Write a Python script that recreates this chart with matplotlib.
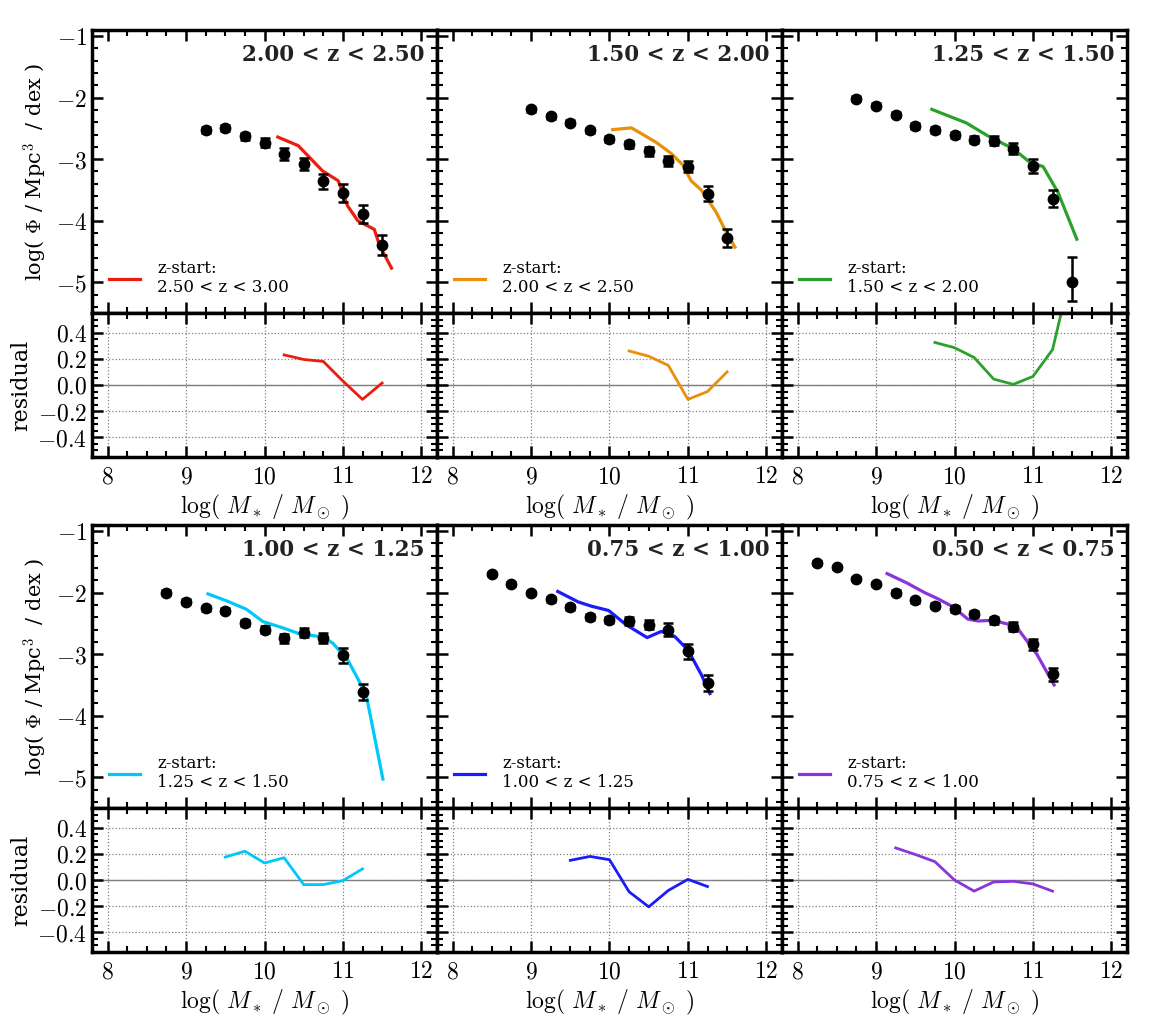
import numpy as np
import matplotlib
matplotlib.use("Agg")
import matplotlib.pyplot as plt
from matplotlib.ticker import MultipleLocator, FuncFormatter

plt.rcParams["font.family"] = "DejaVu Serif"
plt.rcParams["mathtext.fontset"] = "cm"

# ---- data -------------------------------------------------------------
titles = ["2.00 < z < 2.50", "1.50 < z < 2.00", "1.25 < z < 1.50",
          "1.00 < z < 1.25", "0.75 < z < 1.00", "0.50 < z < 0.75"]
starts = ["2.50 < z < 3.00", "2.00 < z < 2.50", "1.50 < z < 2.00",
          "1.25 < z < 1.50", "1.00 < z < 1.25", "0.75 < z < 1.00"]
colors = ["#ec1c0e", "#e8900c", "#2ca02c", "#00c8f8", "#1c1cf8", "#8a35d8"]

# observed mass functions
obs_x1 = [9.25, 9.5, 9.75, 10.0, 10.25, 10.5, 10.75, 11.0, 11.25, 11.5]
obs_y1 = [-2.52, -2.49, -2.63, -2.73, -2.92, -3.08, -3.36, -3.55, -3.89, -4.40]
obs_e1 = [0.05, 0.05, 0.06, 0.07, 0.10, 0.10, 0.12, 0.14, 0.15, 0.16]

obs_x2 = [9.0, 9.25, 9.5, 9.75, 10.0, 10.25, 10.5, 10.75, 11.0, 11.25, 11.5]
obs_y2 = [-2.19, -2.30, -2.41, -2.53, -2.67, -2.76, -2.87, -3.03, -3.12, -3.56, -4.28]
obs_e2 = [0.04, 0.04, 0.04, 0.04, 0.05, 0.05, 0.07, 0.08, 0.09, 0.12, 0.14]

obs_x3 = [8.75, 9.0, 9.25, 9.5, 9.75, 10.0, 10.25, 10.5, 10.75, 11.0, 11.25, 11.5]
obs_y3 = [-2.02, -2.13, -2.28, -2.46, -2.52, -2.60, -2.68, -2.70, -2.83, -3.11, -3.64, -4.99]
obs_e3 = [0.04, 0.04, 0.04, 0.05, 0.05, 0.05, 0.06, 0.07, 0.09, 0.12, 0.14, 0.35]

obs_x4 = [8.75, 9.0, 9.25, 9.5, 9.75, 10.0, 10.25, 10.5, 10.75, 11.0, 11.25]
obs_y4 = [-2.00, -2.15, -2.25, -2.29, -2.49, -2.60, -2.74, -2.65, -2.74, -3.02, -3.62]
obs_e4 = [0.04, 0.04, 0.04, 0.04, 0.05, 0.06, 0.07, 0.07, 0.08, 0.12, 0.13]

obs_x5 = [8.5, 8.75, 9.0, 9.25, 9.5, 9.75, 10.0, 10.25, 10.5, 10.75, 11.0, 11.25]
obs_y5 = [-1.70, -1.86, -2.01, -2.11, -2.24, -2.40, -2.44, -2.46, -2.52, -2.60, -2.95, -3.47]
obs_e5 = [0.03, 0.03, 0.03, 0.04, 0.04, 0.05, 0.05, 0.06, 0.07, 0.10, 0.12, 0.13]

obs_x6 = [8.25, 8.5, 8.75, 9.0, 9.25, 9.5, 9.75, 10.0, 10.25, 10.5, 10.75, 11.0, 11.25]
obs_y6 = [-1.52, -1.59, -1.77, -1.86, -2.00, -2.12, -2.21, -2.26, -2.35, -2.45, -2.55, -2.84, -3.33]
obs_e6 = [0.03, 0.03, 0.03, 0.03, 0.04, 0.04, 0.04, 0.05, 0.05, 0.06, 0.07, 0.09, 0.10]

# evolved model curves
mod_x1 = [10.17, 10.43, 10.74, 10.94, 11.06, 11.19, 11.40, 11.47, 11.62]
mod_y1 = [-2.64, -2.78, -3.19, -3.35, -3.76, -4.00, -4.14, -4.41, -4.77]
mod_x2 = [10.04, 10.28, 10.60, 10.79, 10.94, 11.04, 11.17, 11.36, 11.47, 11.60]
mod_y2 = [-2.52, -2.49, -2.73, -2.91, -3.10, -3.35, -3.50, -3.86, -4.14, -4.43]
mod_x3 = [9.71, 10.15, 10.45, 10.75, 10.96, 11.13, 11.32, 11.56]
mod_y3 = [-2.19, -2.41, -2.64, -2.83, -3.05, -3.12, -3.54, -4.30]
mod_x4 = [9.28, 9.53, 9.77, 9.98, 10.23, 10.45, 10.74, 10.87, 11.06, 11.22, 11.30, 11.51]
mod_y4 = [-2.02, -2.14, -2.27, -2.47, -2.57, -2.67, -2.72, -2.82, -3.09, -3.47, -3.68, -5.03]
mod_x5 = [9.34, 9.60, 9.77, 9.99, 10.21, 10.48, 10.66, 10.83, 11.00, 11.17, 11.28]
mod_y5 = [-1.98, -2.15, -2.22, -2.29, -2.52, -2.73, -2.63, -2.71, -2.93, -3.33, -3.64]
mod_x6 = [9.14, 9.39, 9.62, 9.79, 9.98, 10.17, 10.30, 10.49, 10.71, 10.81, 11.05, 11.27]
mod_y6 = [-1.69, -1.84, -2.00, -2.10, -2.23, -2.43, -2.46, -2.45, -2.52, -2.59, -3.00, -3.50]

# residuals
res_x1 = [10.25, 10.5, 10.75, 11.0, 11.25, 11.5]
res_y1 = [0.23, 0.195, 0.18, 0.03, -0.11, 0.015]
res_x2 = [10.25, 10.5, 10.75, 11.0, 11.25, 11.5]
res_y2 = [0.26, 0.22, 0.15, -0.11, -0.05, 0.10]
res_x3 = [9.75, 10.0, 10.25, 10.5, 10.75, 11.0, 11.25, 11.5]
res_y3 = [0.325, 0.285, 0.21, 0.045, 0.005, 0.065, 0.27, 0.90]
res_x4 = [9.5, 9.75, 10.0, 10.25, 10.5, 10.75, 11.0, 11.25]
res_y4 = [0.175, 0.22, 0.13, 0.17, -0.035, -0.035, -0.005, 0.085]
res_x5 = [9.5, 9.75, 10.0, 10.25, 10.5, 10.75, 11.0, 11.25]
res_y5 = [0.15, 0.18, 0.155, -0.09, -0.205, -0.08, 0.005, -0.05]
res_x6 = [9.25, 9.5, 9.75, 10.0, 10.25, 10.5, 10.75, 11.0, 11.25]
res_y6 = [0.245, 0.195, 0.14, 0.0, -0.085, -0.015, -0.01, -0.03, -0.085]

obs = [(obs_x1, obs_y1, obs_e1), (obs_x2, obs_y2, obs_e2), (obs_x3, obs_y3, obs_e3),
       (obs_x4, obs_y4, obs_e4), (obs_x5, obs_y5, obs_e5), (obs_x6, obs_y6, obs_e6)]
mods = [(mod_x1, mod_y1), (mod_x2, mod_y2), (mod_x3, mod_y3),
        (mod_x4, mod_y4), (mod_x5, mod_y5), (mod_x6, mod_y6)]
ress = [(res_x1, res_y1), (res_x2, res_y2), (res_x3, res_y3),
        (res_x4, res_y4), (res_x5, res_y5), (res_x6, res_y6)]

# ---- figure -----------------------------------------------------------
W, H = 1150, 1025
fig = plt.figure(figsize=(W / 100, H / 100), dpi=100)

col_left = [92, 437, 782]
col_w = 345
rows = [(30, 313, 457), (525, 808, 952)]  # main top, split, resid bottom


def style(ax):
    ax.tick_params(which="both", direction="in", top=True, right=True)
    ax.tick_params(which="major", length=8, width=1.8)
    ax.tick_params(which="minor", length=4, width=1.5)
    for s in ax.spines.values():
        s.set_linewidth(2.5)
    ax.xaxis.set_major_locator(MultipleLocator(1))
    ax.xaxis.set_minor_locator(MultipleLocator(0.25))


math_fmt = FuncFormatter(lambda v, p: r"$%g$" % v)
res_fmt = FuncFormatter(lambda v, p: r"$%.1f$" % v)

for i in range(6):
    r, c = divmod(i, 3)
    top, mid, bot = rows[r]
    x0 = col_left[c] / W
    w = col_w / W
    ax = fig.add_axes([x0, 1 - mid / H, w, (mid - top) / H])
    axr = fig.add_axes([x0, 1 - bot / H, w, (bot - mid) / H])

    ox, oy, oe = obs[i]
    mx, my = mods[i]
    rx, ry = ress[i]

    if i == 2:
        err = [oe[:-1] + [0.31], oe[:-1] + [0.40]]
    else:
        err = oe
    ax.errorbar(ox, oy, yerr=err, fmt="o", color="black", ms=7.5,
                elinewidth=1.8, capsize=3.5, capthick=1.8, zorder=3)
    ax.plot(mx, my, color=colors[i], lw=2.3,
            label="z-start:\n" + starts[i], zorder=2)
    ax.set_xlim(7.8, 12.2)
    ax.set_ylim(-5.5, -0.9)
    style(ax)
    ax.yaxis.set_major_locator(MultipleLocator(1))
    ax.yaxis.set_minor_locator(MultipleLocator(0.2))
    ax.set_xticklabels([])
    ax.text(0.965, 0.912, titles[i], transform=ax.transAxes, ha="right",
            va="center", fontsize=15.5, fontweight="bold", color="#222222")
    ax.legend(loc="lower left", frameon=False, fontsize=12,
              handlelength=1.9, borderaxespad=0.6, handletextpad=1.0)

    axr.axhline(0, color="gray", lw=1.0, zorder=1)
    axr.plot(rx, ry, color=colors[i], lw=2.0, zorder=2)
    axr.set_xlim(7.8, 12.2)
    axr.set_ylim(-0.55, 0.55)
    style(axr)
    axr.yaxis.set_major_locator(MultipleLocator(0.2))
    axr.yaxis.set_minor_locator(MultipleLocator(0.05))
    axr.grid(True, which="major", linestyle=":", color="gray", lw=0.9)
    axr.xaxis.set_major_formatter(math_fmt)
    axr.tick_params(axis="x", labelsize=17, pad=6)
    axr.set_xlabel(r"$\mathrm{log(}\ M_*\ /\ M_\odot\ \mathrm{)}$",
                   fontsize=17, labelpad=3)

    if c == 0:
        ax.yaxis.set_major_formatter(math_fmt)
        ax.tick_params(axis="y", labelsize=17)
        ax.set_ylabel(r"log( $\Phi$ / Mpc$^3$  / dex )", fontsize=15)
        axr.yaxis.set_major_formatter(res_fmt)
        axr.tick_params(axis="y", labelsize=17)
        axr.set_ylabel("residual", fontsize=16)
    else:
        ax.set_yticklabels([])
        axr.set_yticklabels([])

fig.savefig("out.png", dpi=100)
